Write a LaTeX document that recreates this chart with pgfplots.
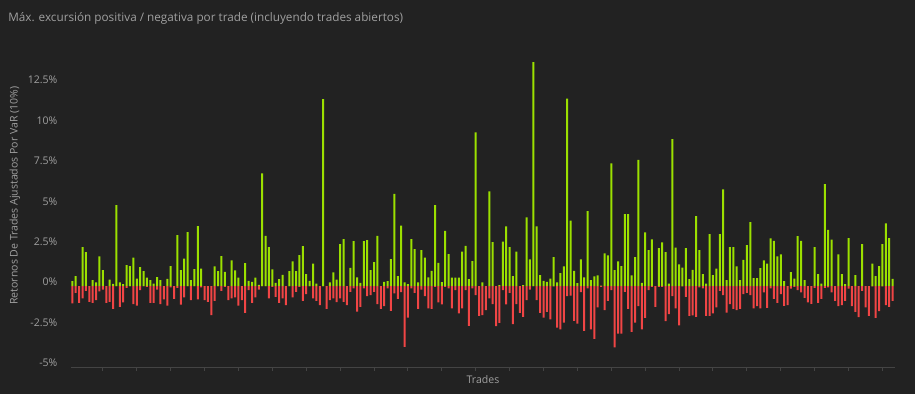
\documentclass[border=0pt]{standalone}
\usepackage{pgfplots}
\pgfplotsset{compat=1.18}
\usepackage{pgfplotstable}
\usepackage{fontspec}
\setmainfont{Open Sans}
\definecolor{bg}{HTML}{222222}
\definecolor{posg}{HTML}{9BE000}
\definecolor{negr}{HTML}{F04545}
\definecolor{txt}{HTML}{A0A0A0}
\definecolor{axl}{HTML}{444444}
\pgfplotstableread{
x g r
1 0.31 -1.07
2 0.62 -0.41
3 0 -1.03
4 2.41 -0.76
5 2.10 -0.29
6 0 -0.97
7 0.37 -1.03
8 0.23 -0.87
9 1.84 -0.33
10 0.99 -0.21
11 0 -1.03
12 0.41 -0.97
13 0.14 -1.40
14 5.01 0
15 0.23 -1.28
16 0.12 -1.01
17 1.30 -0.10
18 1.24 0
19 1.77 -1.11
20 0.47 -1.20
21 1.18 -0.25
22 0.93 0
23 0.52 -0.04
24 0.37 -1.03
25 0.16 -1.03
26 0.56 -0.21
27 0.37 -1.11
28 0 -0.82
29 0.45 -1.20
30 1.24 -0.08
31 0 -0.78
32 3.15 -0.10
33 0.99 -1.15
34 1.71 -0.70
35 3.34 0
36 0.37 -0.87
37 1.05 0
38 3.71 -0.82
39 1.09 -0.08
40 0 -0.87
41 0 -0.97
42 0 -1.79
43 1.22 -0.91
44 0.93 0
45 1.86 -0.29
46 0.89 -0.04
47 0 -0.87
48 1.59 -0.76
49 0.97 -0.70
50 0.52 -1.20
51 0 -0.87
52 1.42 -1.65
53 0.33 -0.25
54 0.27 -1.03
55 0.52 -0.70
56 0.08 -0.21
57 6.97 0
58 3.11 0
59 2.41 -0.76
60 1.03 -0.04
61 0.21 -0.66
62 0.43 -1.03
63 0.70 -0.76
64 0 -1.18
65 0.93 0
66 1.53 -0.70
67 0.93 -0.35
68 1.92 -0.04
69 2.47 -0.91
70 0.74 -0.49
71 0.33 0
72 1.40 -0.76
73 0.16 -0.91
74 0 -1.18
75 11.57 0
76 0 -1.40
77 0.23 -0.87
78 0.85 -0.76
79 0.41 -0.99
80 2.60 -0.76
81 2.91 -0.97
82 0 -1.18
83 1.13 -0.35
84 2.78 -0.14
85 0.54 -1.57
86 0.21 -1.28
87 2.78 -0.14
88 2.85 -0.62
89 0.99 -0.56
90 1.48 -0.35
91 3.11 -1.11
92 0 -1.40
93 0.27 -1.24
94 0.31 -0.14
95 1.67 -1.53
96 5.71 -0.45
97 0.62 -0.78
98 3.75 -0.37
99 0.23 -3.75
100 0.12 -1.94
101 2.91 -0.14
102 2.29 -0.41
103 0.23 -1.40
104 2.23 -0.21
105 1.77 -0.62
106 0.54 -1.38
107 0.95 -1.40
108 5.01 -0.04
109 1.44 -1.01
110 0.25 -1.13
111 3.42 -0.04
112 1.98 -0.14
113 0.52 -1.38
114 0.52 -0.25
115 0.52 -1.69
116 2.14 -1.38
117 2.49 -0.25
118 0.43 -2.45
119 1.55 -0.14
120 9.51 -0.56
121 0 -1.84
122 0.23 -1.79
123 0 -1.48
124 5.86 -0.76
125 2.72 -1.11
126 0 -2.47
127 0.06 -2.27
128 2.76 -0.25
129 3.69 -1.13
130 2.41 -0.41
131 0.62 -2.35
132 2.14 -1.11
133 0 -1.65
134 0.06 -1.90
135 4.25 -0.87
136 1.65 -0.21
137 13.86 0
138 3.69 -0.87
139 0.68 -1.65
140 0.33 -1.94
141 0.27 -1.59
142 0.47 -2.06
143 1.79 -0.02
144 0.23 -2.56
145 0.80 -2.68
146 1.22 -2.25
147 11.59 -0.62
148 4.06 -0.58
149 0.95 -2.14
150 0.19 -2.31
151 1.65 -0.37
152 0.54 -2.76
153 4.64 -0.14
154 0.37 -2.68
155 0.60 -3.26
156 0.66 -1.32
157 0.04 -0.04
158 2.02 -1.48
159 1.90 -0.91
160 7.59 -0.25
161 0.99 -3.79
162 1.53 -2.93
163 1.24 -2.93
164 4.45 -0.35
165 4.45 -1.40
166 0.66 -2.82
167 1.79 -2.25
168 7.81 -1.24
169 0.21 -2.68
170 3.32 -1.96
171 2.23 -0.25
172 2.89 -0.04
173 0 -1.28
174 2.35 -0.04
175 2.70 -0.04
176 2.10 -2.16
177 0.16 -1.73
178 9.09 -0.62
179 2.39 -1.38
180 1.34 -2.43
181 1.15 -0.02
182 2.35 -0.66
183 0.43 -1.84
184 1.01 -1.81
185 4.33 -1.90
186 2.23 -0.08
187 0.74 -0.14
188 0.16 -1.84
189 3.22 -1.84
190 0.68 -1.69
191 1.09 -1.32
192 3.22 -0.29
193 5.98 -0.56
194 0.37 -1.63
195 2.41 -1.11
196 2.41 -1.40
197 1.22 -1.48
198 0.37 -1.40
199 1.63 -0.49
200 2.54 -0.41
201 3.96 -0.56
202 0.49 -1.38
203 0.49 -1.24
204 1.11 -1.38
205 1.59 -0.39
206 1.40 -1.34
207 2.95 -0.14
208 2.80 -0.78
209 1.84 -1.03
210 1.96 -0.49
211 0.31 -1.22
212 0 -1.18
213 0.87 -0.16
214 0.47 -0.04
215 3.09 -0.25
216 2.80 -0.39
217 0.37 -0.72
218 0 -1.01
219 0 -1.09
220 2.41 -0.10
221 0.74 -1.03
222 0.16 -0.78
223 6.31 -0.10
224 3.48 -0.08
225 2.87 -0.39
226 0 -0.91
227 1.96 -1.24
228 0.74 -1.18
229 0.12 -0.91
230 2.97 -0.16
231 0 -1.24
232 0.68 -1.59
233 0 -1.92
234 2.60 -0.29
235 0 -1.32
236 0 -1.84
237 1.40 -0.02
238 0.62 -1.96
239 1.24 -1.55
240 2.60 -0.02
241 3.88 -1.18
242 2.97 -1.28
243 0.45 -0.91
}\datatable
\begin{document}
\begin{tikzpicture}
\fill[bg] (0,0) rectangle (686.25pt,295.5pt);
\node[anchor=west, inner sep=0pt, text=txt, font=\fontsize{8.8pt}{11pt}\selectfont] at (6pt,282pt) {Máx. excursión positiva / negativa por trade (incluyendo trades abiertos)};
\begin{axis}[
  at={(53.25pt,20.25pt)}, anchor=south west,
  scale only axis, width=618pt, height=242.55pt,
  xmin=0.6, xmax=243.7, ymin=-5, ymax=15,
  axis x line*=bottom, axis y line*=left,
  x axis line style={draw=axl, line width=0.75pt},
  y axis line style={draw=none},
  xtick={10,20,...,240}, xticklabels={},
  x tick style={draw=axl, line width=0.75pt},
  tick align=outside, major tick length=3pt,
  ytick={-5,-2.5,0,2.5,5,7.5,10,12.5},
  yticklabels={-5\%,-2.5\%,0\%,2.5\%,5\%,7.5\%,10\%,12.5\%},
  y tick style={draw=none},
  yticklabel style={anchor=east, inner sep=0pt, xshift=-7pt, yshift=3pt, text=txt, font=\fontsize{7.9pt}{9pt}\selectfont},
  xlabel={Trades},
  xlabel style={at={(rel axis cs:0.5,0)}, anchor=center, yshift=-9.75pt, text=txt, font=\fontsize{7.9pt}{9pt}\selectfont},
  ylabel={Retornos De Trades Ajustados Por VaR (10\%)},
  ylabel style={at={(rel axis cs:-0.068,0.53)}, anchor=center, text=txt, font=\fontsize{7.9pt}{9pt}\selectfont},
  ybar, bar width=1.5pt,
]
\addplot[fill=posg, draw=none, bar shift=0pt] table[x=x, y=g] {\datatable};
\addplot[fill=negr, draw=none, bar shift=0pt] table[x=x, y=r] {\datatable};
\end{axis}
\end{tikzpicture}
\end{document}
